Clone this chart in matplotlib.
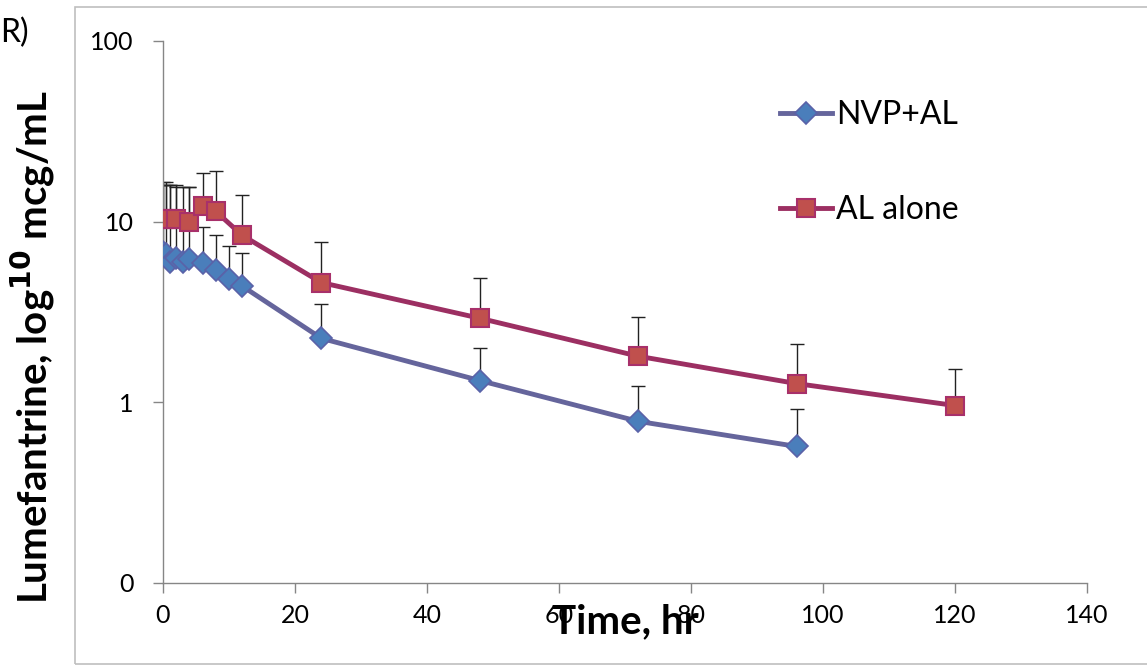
import matplotlib.pyplot as plt
from matplotlib.patches import Rectangle
import numpy as np

# Data (time in hr, concentration in mcg/mL)
nvp_time = [0, 0.5, 1, 2, 3, 4, 6, 8, 10, 12, 24, 48, 72, 96]
nvp_mean = [6.8, 6.6, 6.0, 6.3, 6.0, 6.2, 5.9, 5.4, 4.8, 4.4, 2.26, 1.32, 0.785, 0.57]
nvp_upper = [16.0, 16.0, 16.0, 15.5, 15.5, 15.5, 9.3, 8.4, 7.3, 6.75, 3.5, 2.01, 1.23, 0.915]

al_time = [0, 0.5, 1, 2, 4, 6, 8, 12, 24, 48, 72, 96, 120]
al_mean = [10.4, 10.4, 10.4, 10.3, 10.0, 12.2, 11.4, 8.4, 4.6, 2.92, 1.80, 1.27, 0.96]
al_upper = [16.5, 16.5, 16.0, 16.0, 15.5, 18.5, 19.0, 14.0, 7.7, 4.9, 2.95, 2.09, 1.52]

y_ticks = [0.1, 1, 10, 100]
y_ticklabels = ['0', '1', '10', '100']
x_ticks = [0, 20, 40, 60, 80, 100, 120, 140]

plt.rcParams['font.family'] = ['Lato', 'DejaVu Sans']

fig = plt.figure(figsize=(11.47, 6.65), dpi=100)
ax = fig.add_axes([163 / 1147, 1 - 583 / 665, (1087 - 163) / 1147, (583 - 41) / 665])

# chart area border (Excel style)
fig.patches.append(Rectangle((75 / 1147, 0.0015), 1.0, 0.988, transform=fig.transFigure,
                             fill=False, edgecolor='#bfbfbf', linewidth=1.2))

nvp_mean = np.array(nvp_mean)
al_mean = np.array(al_mean)
nvp_err = [np.zeros(len(nvp_mean)), np.array(nvp_upper) - nvp_mean]
al_err = [np.zeros(len(al_mean)), np.array(al_upper) - al_mean]

ax.errorbar(al_time, al_mean, yerr=al_err, fmt='none', ecolor='#222222',
            elinewidth=1.0, capsize=5, capthick=1.0, zorder=1)
ax.errorbar(nvp_time, nvp_mean, yerr=nvp_err, fmt='none', ecolor='#222222',
            elinewidth=1.0, capsize=5, capthick=1.0, zorder=1)

ax.plot(nvp_time, nvp_mean, color='#65659c', lw=3.5, marker='D', ms=11,
        markerfacecolor='#4a7ebb', markeredgecolor='#5a62a8', markeredgewidth=1.2,
        label='NVP+AL', zorder=3)
ax.plot(al_time, al_mean, color='#9c2f62', lw=3.5, marker='s', ms=13,
        markerfacecolor='#c0504d', markeredgecolor='#a8306a', markeredgewidth=1.5,
        label='AL alone', zorder=4)

ax.set_yscale('log')
ax.set_ylim(0.1, 100)
ax.set_xlim(0, 140)
ax.set_yticks(y_ticks)
ax.set_yticklabels(y_ticklabels)
ax.yaxis.set_minor_locator(plt.NullLocator())
ax.set_xticks(x_ticks)

for s in ['top', 'right']:
    ax.spines[s].set_visible(False)
for s in ['left', 'bottom']:
    ax.spines[s].set_color('#868686')
    ax.spines[s].set_linewidth(1.0)
ax.tick_params(axis='both', colors='#868686', labelcolor='black', labelsize=18,
               length=7, width=1.0)
ax.tick_params(axis='y', pad=14)
ax.tick_params(axis='x', pad=8)

ax.set_xlabel('Time, hr', fontsize=29, fontweight='bold', labelpad=-17)
fig.text(33 / 1147, 1 - 347 / 665, 'Lumefantrine, log$^{\\mathbf{10}}$ mcg/mL', rotation=90,
         fontsize=29, fontweight='bold', ha='center', va='center')
fig.text(0.0, 1 - 33 / 665, 'R)', fontsize=23, ha='left', va='center')

ax.legend(loc='upper left', bbox_to_anchor=(767 / 1147, 1 - 87 / 665),
          bbox_transform=fig.transFigure, frameon=False, fontsize=23,
          handlelength=1.65, handletextpad=0.1, labelspacing=2.05, numpoints=1,
          borderaxespad=0)

fig.savefig('out.png', dpi=100)
